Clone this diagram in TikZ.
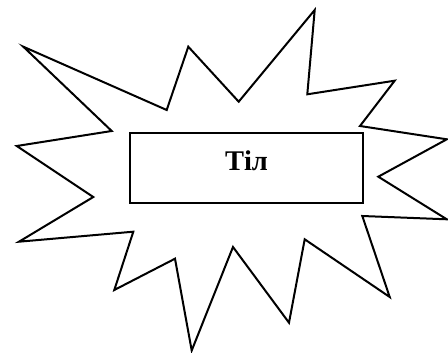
\documentclass[tikz,border=0pt]{standalone}
\usepackage{fontspec}
\setmainfont{Liberation Serif}
\begin{document}
\begin{tikzpicture}[x=1pt,y=-1pt,
  outline/.style={draw=black,line width=2pt},
  label/.style={font=\bfseries\fontsize{28.5}{30}\selectfont}]
\useasboundingbox (0,0) rectangle (448,353);
\draw[outline]
  (23.3,46.7) -- (166.7,110) -- (188.3,46.7) -- (238.7,101.7) --
  (314.7,10) -- (307.3,94.3) -- (394.7,80.7) -- (360,126) --
  (446.8,139.3) -- (378.3,176.7) -- (446.8,219.3) -- (362.3,216) --
  (389.7,297) -- (304.7,239.3) -- (289,322.7) -- (233,247) --
  (191.7,350.5) -- (175,258.7) -- (114.3,290) -- (133.3,231.7) --
  (19,241.7) -- (93.3,197) -- (16.7,146) -- (111.7,131) -- cycle;
\node[outline,fill=white,minimum width=232.5pt,minimum height=70.8pt,inner sep=0pt] (box) at (246.3,168.1) {};
\node[label,anchor=base,inner sep=0pt] (txt) at (246.5,170.7) {Тіл};
\end{tikzpicture}
\end{document}
